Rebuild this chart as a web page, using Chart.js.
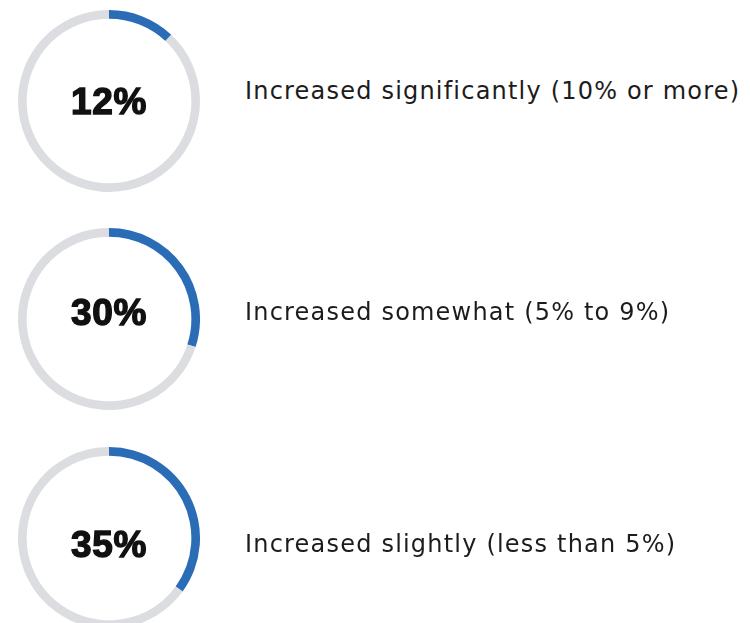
<!DOCTYPE html>
<html>
<head>
<meta charset="utf-8">
<script src="https://cdn.jsdelivr.net/npm/chart.js"></script>
<style>
  * { margin: 0; padding: 0; box-sizing: border-box; }
  body { width: 750px; height: 623px; background: #fff; overflow: hidden; position: relative; }
  .ring { position: absolute; left: 18px; width: 182px; height: 182px; }
  .pct {
    position: absolute; left: 18px; width: 182px; text-align: center;
    font-family: 'Liberation Sans', Arial, sans-serif; font-weight: bold;
    font-size: 37px; line-height: 40px; color: #111; letter-spacing: 0.6px;
    -webkit-text-stroke: 1.4px #111;
  }
  .label {
    position: absolute; left: 245px; white-space: nowrap;
    font-family: 'DejaVu Sans', sans-serif; font-size: 24px; line-height: 30px;
    color: #1c1c1c; letter-spacing: 1.2px;
  }
</style>
</head>
<body>
  <canvas class="ring" id="r0" style="top:10px"></canvas>
  <canvas class="ring" id="r1" style="top:228px"></canvas>
  <canvas class="ring" id="r2" style="top:447px"></canvas>
  <div class="pct" id="p0" style="top:82px"></div>
  <div class="pct" id="p1" style="top:293px"></div>
  <div class="pct" id="p2" style="top:525px"></div>
  <div class="label" id="l0" style="top:76px"></div>
  <div class="label" id="l1" style="top:297px"></div>
  <div class="label" id="l2" style="top:529px"></div>

<script>
  // Data
  const categories = ['Increased significantly (10% or more)', 'Increased somewhat (5% to 9%)', 'Increased slightly (less than 5%)'];
  const values = [12, 30, 35];

  const blue = '#2b6cb6';
  const grey = '#dcdde0';

  values.forEach((v, i) => {
    document.getElementById('p' + i).textContent = v + '%';
    document.getElementById('l' + i).textContent = categories[i];

    new Chart(document.getElementById('r' + i), {
      type: 'doughnut',
      data: {
        labels: [categories[i], 'Rest'],
        datasets: [{
          data: [v, 100 - v],
          backgroundColor: [blue, grey],
          borderWidth: 0
        }]
      },
      options: {
        responsive: false,
        animation: false,
        cutout: '90.5%',
        plugins: { legend: { display: false }, tooltip: { enabled: false } }
      }
    });
  });
</script>
</body>
</html>
